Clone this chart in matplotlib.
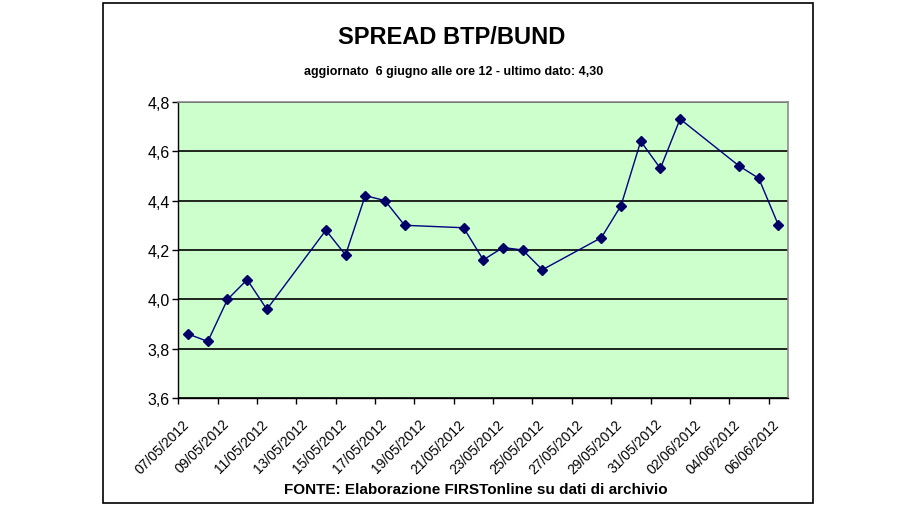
import numpy as np
import pandas as pd
import matplotlib
matplotlib.use("Agg")
import matplotlib.pyplot as plt
import matplotlib.dates as mdates
import matplotlib.transforms as mtransforms
from matplotlib.patches import Rectangle
from matplotlib.ticker import FuncFormatter

# Dati (spread in punti percentuali)
dates = pd.to_datetime([
    "2012-05-07", "2012-05-08", "2012-05-09", "2012-05-10", "2012-05-11",
    "2012-05-14", "2012-05-15", "2012-05-16", "2012-05-17", "2012-05-18",
    "2012-05-21", "2012-05-22", "2012-05-23", "2012-05-24", "2012-05-25",
    "2012-05-28", "2012-05-29", "2012-05-30", "2012-05-31", "2012-06-01",
    "2012-06-04", "2012-06-05", "2012-06-06",
])
spread = [3.86, 3.83, 4.00, 4.08, 3.96,
          4.28, 4.18, 4.42, 4.40, 4.30,
          4.29, 4.16, 4.21, 4.20, 4.12,
          4.25, 4.38, 4.64, 4.53, 4.73,
          4.54, 4.49, 4.30]
y_ticks = [3.6, 3.8, 4.0, 4.2, 4.4, 4.6, 4.8]

title = "SPREAD BTP/BUND"
subtitle = "aggiornato  6 giugno alle ore 12 - ultimo dato: 4,30"
source = "FONTE: Elaborazione FIRSTonline su dati di archivio"

FONT = ["Liberation Sans", "DejaVu Sans"]

fig = plt.figure(figsize=(9.2, 5.1), dpi=100)
fig.patch.set_facecolor("white")

# cornice esterna del grafico
fig.add_artist(Rectangle((103.5 / 920, 1 - 503.5 / 510), 709 / 920, 500 / 510,
                         transform=fig.transFigure, fill=False,
                         edgecolor="black", linewidth=1.2))

ax = fig.add_axes([178.3 / 920, 1 - 399.3 / 510, 610 / 920, 296.6 / 510])
ax.set_facecolor("#CCFFCC")

# i punti stanno al centro del giorno (asse date stile Excel)
ax.plot(dates + pd.Timedelta(hours=12), spread, color="#000080", linewidth=1,
        marker="D", markersize=5, markerfacecolor="#000066",
        markeredgecolor="#000066", zorder=3)

ax.set_xlim(pd.Timestamp("2012-05-07"), pd.Timestamp("2012-06-07"))
ax.set_ylim(3.6, 4.8)
ax.set_yticks(y_ticks)
ax.yaxis.set_major_formatter(FuncFormatter(lambda v, p: f"{v:.1f}".replace(".", ",")))
ax.set_xticks(pd.date_range("2012-05-07", "2012-06-06", freq="2D"))
ax.xaxis.set_major_formatter(mdates.DateFormatter("%d/%m/%Y"))

ax.grid(axis="y", color="black", linewidth=1.2)
ax.set_axisbelow(True)
for s in ["top", "right"]:
    ax.spines[s].set_color("#8c8c8c")
    ax.spines[s].set_linewidth(1.2)
for s in ["left", "bottom"]:
    ax.spines[s].set_color("black")
    ax.spines[s].set_linewidth(1.0)

ax.tick_params(direction="out", length=4, width=1, color="black", pad=2)
ax.tick_params(axis="x", pad=9)
for lab in ax.get_yticklabels():
    lab.set_family(FONT)
    lab.set_fontsize(11.5)
# etichette inclinate, spostate un po' a destra come in Excel
shift = mtransforms.ScaledTranslation(4 / 100, 0, fig.dpi_scale_trans)
for lab in ax.get_xticklabels():
    lab.set_family(FONT)
    lab.set_fontsize(10)
    lab.set_rotation(45)
    lab.set_ha("right")
    lab.set_rotation_mode("anchor")
    lab.set_transform(lab.get_transform() + shift)

fig.text(452 / 920, 1 - 38 / 510, title, ha="center", va="center",
         fontsize=17, fontweight="bold", family=FONT)
fig.text(454 / 920, 1 - 72 / 510, subtitle, ha="center", va="center",
         fontsize=9, fontweight="bold", family=FONT)
fig.text(476 / 920, 1 - 490 / 510, source, ha="center", va="center",
         fontsize=11, fontweight="bold", family=FONT)

plt.savefig("out.png", dpi=100)
plt.close()
